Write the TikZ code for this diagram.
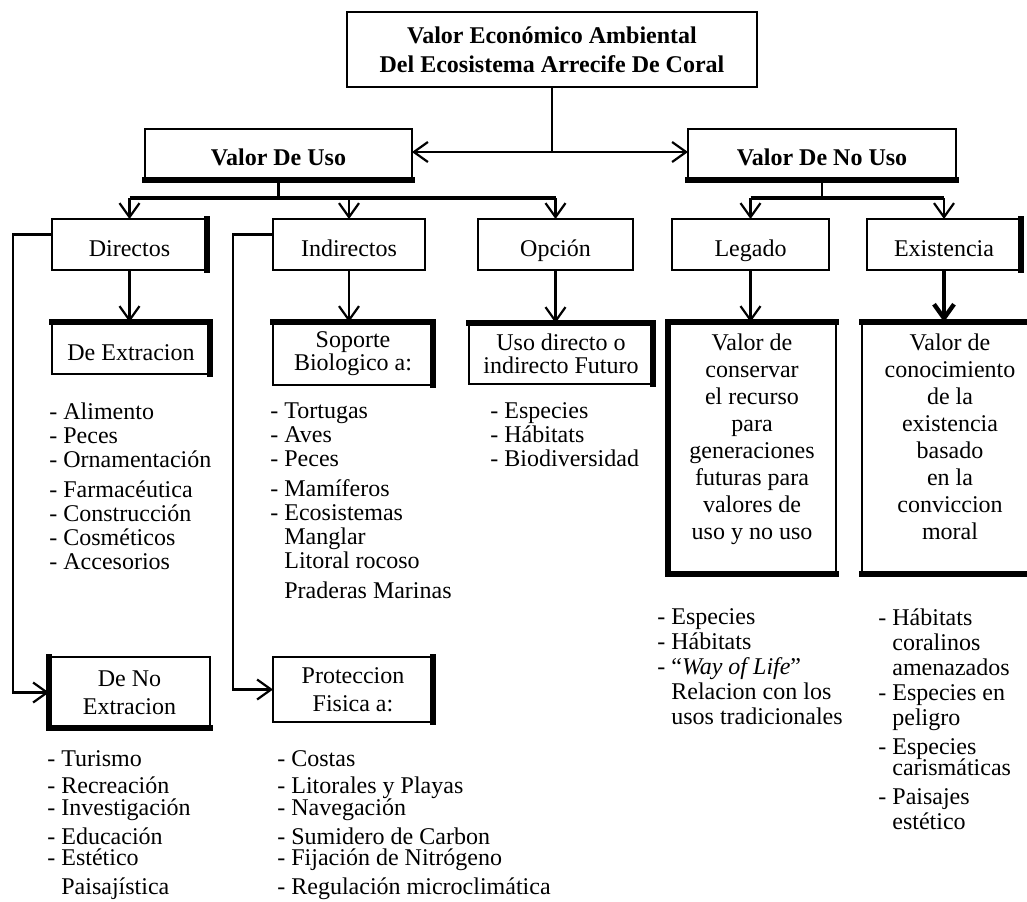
\documentclass[tikz,border=0pt,12pt]{standalone}
\usepackage{fontspec}
\setmainfont{Liberation Serif}
\usetikzlibrary{arrows.meta,calc}

\begin{document}
\begin{tikzpicture}[x=0.5pt, y=-0.5pt,
  box/.style={draw, line width=1.1pt, inner sep=0pt, outer sep=0pt, align=center},
  lbl/.style={text height=12pt, text depth=0pt},
  lst/.style={anchor=north west, inner sep=0pt, align=left, font=\fontsize{12}{12}\selectfont},
  arr/.style={-{Straight Barb[length=7pt,width=10pt]}, line width=1.1pt},
  bus/.style={line width=2.2pt},
  heavy/.style={line width=2.6pt, line cap=rect}]

  \useasboundingbox (0,0) rectangle (1027,901);

  % niveles superiores
  \node[box, minimum width=205pt, minimum height=37.5pt, font=\bfseries\fontsize{12}{14.5}\selectfont] (vea) at (552,49.5) {Valor Económico Ambiental\\Del Ecosistema Arrecife De Coral};
  \node[box, minimum width=133.5pt, minimum height=25.5pt, text height=10.5pt, text depth=0pt, font=\bfseries] (uso) at (278.5,154.5) {Valor De Uso};
  \node[box, minimum width=134pt, minimum height=25.5pt, text height=10.5pt, text depth=0pt, font=\bfseries] (nouso) at (822,154.5) {Valor De No Uso};

  \foreach \n/\x/\w/\t in {dir/129.5/77.5/Directos, ind/349/76/Indirectos, opc/555.5/77.5/Opción, leg/750.5/78.5/Legado, exi/944/77/Existencia}{
    \node[box, lbl, minimum width=\w pt, minimum height=25.5pt] (\n) at (\x,244.5) {\t};
  }

  % cajas de detalle
  \node[box, lbl, minimum width=79pt, minimum height=26pt] (dext) at (131,348) {De Extracion};
  \node[box, minimum width=80pt, minimum height=31.5pt, font=\fontsize{12}{11.5}\selectfont] (sop) at (353,353.5) {Soporte\\Biologico a:};
  \node[box, minimum width=92pt, minimum height=30.5pt, font=\fontsize{12}{11.5}\selectfont] (fut) at (561,353.5) {Uso directo o\\indirecto Futuro};
  \node[box, minimum width=84pt, minimum height=126pt, text depth=11pt, font=\fontsize{12}{13.5}\selectfont] (cons) at (752,448) {Valor de\\conservar\\el recurso\\para\\generaciones\\futuras para\\valores de\\uso y no uso};
  \node[box, minimum width=88pt, minimum height=126pt, text depth=11pt, font=\fontsize{12}{13.5}\selectfont] (conoc) at (950,448) {Valor de\\conocimiento\\de la\\existencia\\basado\\en la\\conviccion\\moral};
  \node[box, minimum width=80.5pt, minimum height=35.5pt, font=\fontsize{12}{14}\selectfont] (dnext) at (129.5,692.5) {De No\\Extracion};
  \node[box, minimum width=80pt, minimum height=32.5pt, font=\fontsize{12}{14}\selectfont] (prot) at (353,689.5) {Proteccion\\Fisica a:};

  % bordes gruesos
  \foreach \n/\a/\b in {uso/south west/south east, nouso/south west/south east, dir/north east/south east, exi/north east/south east,
      dext/north west/north east, dext/north east/south east, sop/north west/north east, sop/north east/south east,
      fut/north west/north east, fut/north east/south east, cons/north west/north east, cons/north west/south west,
      cons/south west/south east, conoc/north west/north east, conoc/south west/south east,
      dnext/north west/south west, dnext/south west/south east, prot/north east/south east}
    \draw[heavy] (\n.\a) -- (\n.\b);

  % conectores
  \coordinate (top) at (552,152);
  \draw[line width=1.1pt] (vea.south) -- (top);
  \draw[arr] (top) -- (uso.east |- top);
  \draw[arr] (top) -- (nouso.west |- top);

  \coordinate (ubus) at (278.5,198);
  \draw[line width=1.1pt] (uso.south) -- (ubus);
  \draw[bus] (dir.north |- ubus) -- (opc.north |- ubus);
  \foreach \n in {dir,ind,opc}
    \draw[arr] (\n.north |- ubus) -- (\n.north);

  \coordinate (nbus) at (822,198);
  \draw[line width=1.1pt] (nouso.south) -- (nbus);
  \draw[bus] (leg.north |- nbus) -- (exi.north |- nbus);
  \foreach \n in {leg,exi}
    \draw[arr] (\n.north |- nbus) -- (\n.north);

  \draw[arr] (dir.south) -- (dir.south |- dext.north);
  \draw[arr] (ind.south) -- (ind.south |- sop.north);
  \draw[arr] (opc.south) -- (opc.south |- fut.north);
  \draw[arr] (leg.south) -- (leg.south |- cons.north);
  \draw[arr, line width=2.2pt] (exi.south) -- (exi.south |- conoc.north);

  \draw[arr] ([yshift=5pt]dir.west) -- ++(-39,0) |- (dnext.west);
  \draw[arr] ([yshift=5pt]ind.west) -- ++(-40,0) |- (prot.west);

  % listas
  \node[lst] (extl) at (49,402) {- Alimento\\- Peces\\- Ornamentación\\[3pt]- Farmacéutica\\- Construcción\\- Cosméticos\\- Accesorios};
  \node[lst] (sopl) at (270,402) {- Tortugas\\- Aves\\- Peces\\[3pt]- Mamíferos\\- Ecosistemas\\\hphantom{- }Manglar\\\hphantom{- }Litoral rocoso\\[3pt]\hphantom{- }Praderas Marinas};
  \node[lst] (futl) at (490,402) {- Especies\\- Hábitats\\- Biodiversidad};
  \node[lst] (dnextl) at (47,750) {- Turismo\\[1.5pt]- Recreación\\[-1pt]- Investigación\\[2.5pt]- Educación\\[-1.5pt]- Estético\\[2.5pt]\hphantom{- }Paisajística};
  \node[lst] (protl) at (277,750) {- Costas\\[1.5pt]- Litorales y Playas\\[-1pt]- Navegación\\[2.5pt]- Sumidero de Carbon\\[-1.5pt]- Fijación de Nitrógeno\\[2.5pt]- Regulación microclimática};
  \node[lst, font=\fontsize{12}{12.5}\selectfont] (legl) at (657,608) {- Especies\\- Hábitats\\- “\textit{Way of Life}”\\\hphantom{- }Relacion con los\\\hphantom{- }usos tradicionales};
  \node[lst, font=\fontsize{12}{12.5}\selectfont] (exil) at (878,608) {- Hábitats\\\hphantom{- }coralinos\\\hphantom{- }amenazados\\- Especies en\\\hphantom{- }peligro\\[2pt]- Especies\\[-2pt]\hphantom{- }carismáticas\\[2pt]- Paisajes\\\hphantom{- }estético};

\end{tikzpicture}
\end{document}
